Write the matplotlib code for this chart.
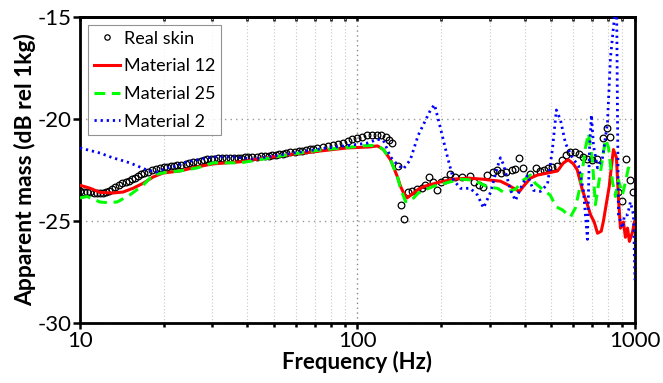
import matplotlib
matplotlib.use("Agg")
import matplotlib.pyplot as plt
from matplotlib.ticker import FixedLocator, NullFormatter

plt.rcParams["font.family"] = ["Lato", "DejaVu Sans"]
plt.rcParams["axes.unicode_minus"] = False

# Real skin (measured points)
skin_f = [10, 10.3, 10.6, 10.9, 11.2, 11.5, 11.8, 12.1, 12.4, 12.7, 13.0,
          13.4, 13.8, 14.2, 14.6, 15.0, 15.4, 15.8, 16.2, 16.6, 17.0,
          17.6, 18.2, 18.8, 19.4, 20.0, 20.6, 21.2, 21.8, 22.4,
          23.2, 24.0, 24.8, 25.6, 26.4, 27.2, 28.0, 28.8, 29.6, 30.4,
          31.5, 32.6, 33.7, 34.8, 35.9, 37.0, 38.1, 39.2, 40.3,
          41.8, 43.3, 44.8, 46.3, 47.8, 49.3, 50.8, 52.3, 53.8, 55.3,
          57.3, 59.3, 61.3, 63.3, 65.3, 67.3, 69.3, 71.3,
          74.8, 78.3, 81.8, 85.3, 88.8, 92.3, 95.8, 99.3,
          103.8, 108.3, 112.8, 117.3, 121.8, 126.3, 130.4, 133.7,
          139.4, 142.9, 147.7, 152.7, 157.8, 164.5, 170.1, 175.8, 181.7, 187.8,
          194.2, 200.7, 207.5, 214.6, 225.5, 239.0, 255.4, 264.0, 275.2, 284.5,
          294.1, 309.1, 319.5, 330.3, 344.3, 361.9, 371.0, 383.5, 396.4, 420.2,
          441.6, 456.5, 471.9, 487.9, 504.3, 525.7, 548.0, 566.4, 585.6, 610.4,
          631.0, 652.3, 674.3, 702.9, 732.8, 763.9, 789.7, 816.3, 872.0, 901.6,
          931.9, 963.4, 987.6]
skin_db = [-23.55, -23.57, -23.6, -23.6, -23.62, -23.64, -23.65, -23.64, -23.6, -23.52, -23.42,
           -23.32, -23.22, -23.15, -23.08, -23.02, -22.95, -22.87, -22.79, -22.72, -22.66,
           -22.58, -22.5, -22.44, -22.39, -22.35, -22.33, -22.31, -22.29, -22.27,
           -22.24, -22.2, -22.16, -22.13, -22.1, -22.05, -22.01, -21.98, -21.96, -21.95,
           -21.93, -21.92, -21.9, -21.9, -21.9, -21.9, -21.89, -21.88, -21.87,
           -21.85, -21.84, -21.83, -21.81, -21.8, -21.78, -21.75, -21.72, -21.7, -21.67,
           -21.64, -21.6, -21.58, -21.55, -21.52, -21.49, -21.46, -21.43,
           -21.38, -21.33, -21.29, -21.24, -21.18, -21.08, -21.0, -20.95,
           -20.88, -20.8, -20.78, -20.78, -20.8, -20.88, -21.05, -21.2,
           -22.3, -24.2, -24.9, -23.6, -23.52, -23.45, -23.4, -23.25, -22.85, -23.1,
           -23.5, -23.1, -23.0, -22.7, -22.85, -22.85, -22.8, -23.1, -23.25, -23.35,
           -22.75, -22.6, -22.5, -22.65, -22.6, -22.5, -22.45, -21.9, -22.4, -22.7,
           -22.4, -22.55, -22.5, -22.4, -22.35, -22.3, -22.0, -21.75, -21.6, -21.6,
           -21.7, -21.85, -21.95, -22.0, -21.95, -20.95, -20.45, -20.9, -23.6, -24.0,
           -21.95, -23.0, -23.6]

# Material 12
m12_f = [10, 10.9, 11.8, 13.1, 14.3, 15.5, 16.9, 18.3, 19.9, 22.9, 26.4, 30.2, 33.9,
         37.8, 42.0, 55.7, 73.3, 91.7, 110.9, 118, 124, 131.5, 134.8, 139.4, 142.9,
         146.3, 150.8, 157, 165.5, 174.5, 197, 222, 250, 282, 301.5, 327.5, 350.5,
         371, 383.5, 396.4, 420, 445, 484, 525.7, 552.6, 575, 600, 619.6, 647, 674,
         692, 713, 733, 756, 770, 783, 808, 816, 836.5, 857.6, 872, 886.6, 909, 924,
         940, 955, 979.5, 996]
m12_db = [-23.25, -23.4, -23.6, -23.63, -23.58, -23.4, -23.15, -22.85, -22.65, -22.55,
          -22.35, -22.2, -22.15, -22.1, -22.0, -21.76, -21.57, -21.42, -21.37, -21.32,
          -21.5, -22.0, -22.35, -22.85, -23.3, -23.6, -23.87, -23.7, -23.45, -23.3,
          -23.1, -22.95, -22.9, -22.95, -23.0, -23.05, -23.25, -23.45, -23.55, -23.3,
          -22.9, -22.75, -22.65, -22.55, -22.15, -22.0, -22.2, -22.5, -23.5, -24.2,
          -24.7, -25.05, -25.6, -25.5, -25.0, -24.4, -23.3, -22.75, -21.5, -21.9,
          -23.87, -25.35, -25.05, -25.8, -25.35, -26.0, -25.55, -25.05]

# Material 25
m25_f = [10, 10.6, 11.8, 12.5, 13.6, 15.1, 16.9, 18.3, 20.6, 22.9, 26.4, 30.2, 33.9,
         37.8, 42.0, 55.7, 73.3, 108.7, 118, 124, 131.5, 139.4, 142.9, 149, 155, 165.5,
         187.8, 235, 262, 294, 319.5, 335, 350.5, 371, 396, 420, 437, 468, 495, 519,
         548, 586, 610, 636, 663, 680, 703, 720, 751, 783, 803, 830, 851, 872, 902,
         924, 947, 980, 996]
m25_db = [-23.87, -23.8, -24.07, -24.1, -24.07, -23.73, -23.24, -22.75, -22.6, -22.55,
          -22.4, -22.15, -22.15, -22.15, -22.05, -21.76, -21.52, -21.3, -21.3, -21.5,
          -22.0, -22.85, -23.4, -24.05, -24.05, -23.63, -23.3, -22.95, -23.0, -23.33,
          -23.4, -23.58, -23.55, -23.45, -23.0, -22.75, -23.15, -23.48, -23.73, -24.3,
          -24.46, -24.8, -24.36, -23.24, -21.42, -20.7, -22.1, -24.2, -22.6, -21.0,
          -21.4, -23.1, -23.8, -23.0, -23.7, -23.1, -22.4, -22.6, -22.6]

# Material 2
m2_f = [10, 11.8, 13.1, 13.9, 15.1, 16.4, 17.4, 18.9, 20.6, 21.6, 24.3, 30.2, 35.6,
        42.0, 55.7, 73.3, 96.6, 108.7, 118, 124, 131.5, 139.4, 146.3, 155, 165.5,
        183.3, 189.5, 197, 211, 222, 235, 255, 270.7, 284.5, 301.5, 319.5, 327.5, 335,
        356, 371, 386.8, 410, 431, 456.5, 484, 504, 521, 539, 562, 595, 626, 652, 674,
        685.5, 697, 708.7, 733, 764, 796, 816, 843.7, 858, 865, 872, 902, 917, 940,
        963, 988, 1000]
m2_db = [-21.42, -21.67, -21.9, -22.0, -22.15, -22.35, -22.5, -22.6, -22.4, -22.35,
         -22.1, -21.86, -21.86, -21.96, -21.72, -21.47, -21.27, -21.18, -21.0, -21.05,
         -21.86, -22.25, -22.45, -22.0, -20.8, -19.56, -19.3, -20.2, -21.86, -23.0,
         -23.4, -23.4, -23.73, -24.36, -23.6, -22.35, -21.9, -22.2, -23.48, -24.0,
         -23.4, -22.75, -23.5, -23.55, -23.2, -21.5, -19.56, -20.05, -21.2, -21.9,
         -22.3, -23.5, -25.9, -21.5, -19.8, -21.3, -22.4, -21.9, -20.2, -17.0, -15.0,
         -13.5, -19.8, -24.7, -25.35, -24.7, -24.7, -24.07, -24.7, -27.9]

xticks = [10, 100, 1000]
xminor = [20, 30, 40, 50, 60, 70, 80, 90, 200, 300, 400, 500, 600, 700, 800, 900]
yticks = [-30, -25, -20, -15]

fig = plt.figure(figsize=(6.63, 3.83), dpi=100)
ax = fig.add_axes([0.1207, 0.1567, 0.837, 0.799])

ax.plot(skin_f, skin_db, "o", ms=4.8, mfc="none", mec="black", mew=0.9,
        label="Real skin", zorder=3)
ax.plot(m12_f, m12_db, "-", color="#ff0000", lw=2.2, label="Material 12", zorder=4)
ax.plot(m25_f, m25_db, color="#00ff00", lw=2.2, ls=(0, (3.5, 2.2)),
        label="Material 25", zorder=5)
ax.plot(m2_f, m2_db, color="#0000ff", lw=2.0, ls=(0, (0.8, 1.4)),
        label="Material 2", zorder=6)

ax.set_xscale("log")
ax.set_xlim(10, 1000)
ax.set_ylim(-30, -15)

ax.xaxis.set_major_locator(FixedLocator(xticks))
ax.set_xticklabels([str(t) for t in xticks])
ax.xaxis.set_minor_locator(FixedLocator(xminor))
ax.xaxis.set_minor_formatter(NullFormatter())
ax.set_yticks(yticks)
ax.set_yticklabels([str(t) for t in yticks])

ax.grid(True, which="minor", axis="x", color="#c8c8c8", ls=(0, (1, 2)), lw=0.8)
ax.grid(True, which="major", axis="x", color="#888888", ls=(0, (1, 2.5)), lw=1.0)
ax.grid(True, which="major", axis="y", color="#999999", ls=(0, (1, 3)), lw=1.0)

for s in ax.spines.values():
    s.set_linewidth(2.0)

ax.tick_params(axis="y", direction="out", length=5, width=1.8, labelsize=16,
               right=False, pad=1)
ax.tick_params(axis="x", which="major", direction="out", length=4, width=1.8,
               labelsize=16, top=False, pad=2)
ax.tick_params(axis="x", which="minor", direction="out", length=3, width=1.8,
               top=False)

# top ticks point inward
top = ax.secondary_xaxis("top")
top.xaxis.set_major_locator(FixedLocator(xticks))
top.xaxis.set_minor_locator(FixedLocator(xminor))
top.xaxis.set_major_formatter(NullFormatter())
top.xaxis.set_minor_formatter(NullFormatter())
top.tick_params(which="both", direction="in", length=3, width=1.8)
top.spines["top"].set_linewidth(2.0)

ax.set_xlabel("Frequency (Hz)", fontsize=16, fontweight="bold", labelpad=0)
ax.set_ylabel("Apparent mass (dB rel 1kg)", fontsize=16.5, fontweight="bold",
              labelpad=1)

leg = ax.legend(loc="upper left", fontsize=13, frameon=True, fancybox=False,
                edgecolor="#777777", borderpad=0.3, labelspacing=0.65,
                handlelength=1.45, handletextpad=0.22, borderaxespad=0.45,
                markerscale=0.8)
leg.get_frame().set_linewidth(0.8)

fig.savefig("out.png", dpi=100)
